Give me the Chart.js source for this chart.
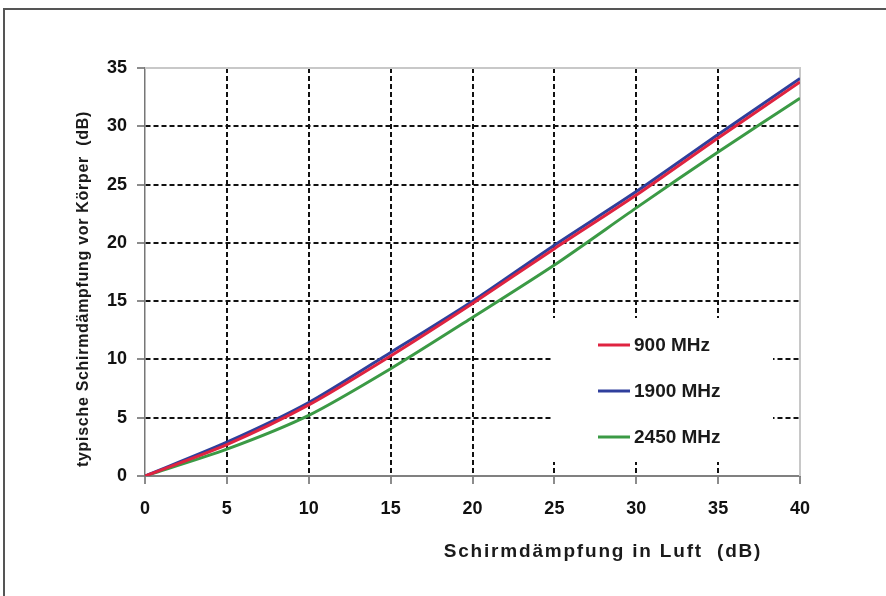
<!DOCTYPE html>
<html>
<head>
<meta charset="utf-8">
<script src="https://cdn.jsdelivr.net/npm/chart.js@4/dist/chart.umd.min.js"></script>
<style>
  body { margin: 0; background: #fff; }
  #wrap { position: relative; width: 886px; height: 596px; overflow: hidden; }
  #frame { position: absolute; left: 3px; top: 8px; width: 1000px; height: 1000px;
           border-top: 2px solid #555; border-left: 2px solid #555; }
  #box { position: absolute; left: 0; top: 0; width: 886px; height: 596px; }
</style>
</head>
<body>
<div id="wrap">
  <div id="frame"></div>
  <div id="box"><canvas id="chart"></canvas></div>
</div>
<script>
// Schirmdämpfung in Luft (dB)
const xValues = [0, 5, 10, 15, 20, 25, 30, 35, 40];
// typische Schirmdämpfung vor Körper (dB)
const mhz900  = [0, 2.7, 6.1, 10.3, 14.8, 19.5, 24.1, 29.0, 33.8];
const mhz1900 = [0, 2.9, 6.3, 10.6, 15.0, 19.8, 24.4, 29.3, 34.1];
const mhz2450 = [0, 2.3, 5.2, 9.2, 13.6, 18.1, 23.0, 27.8, 32.4];
const seriesLabels = ['900 MHz', '1900 MHz', '2450 MHz'];
const xTitle = 'Schirmdämpfung in Luft  (dB)';
const yTitle = 'typische Schirmdämpfung vor Körper  (dB)';

const toPoints = (ys) => ys.map((y, i) => ({ x: xValues[i], y: y }));

const FONT = "'Liberation Sans', Arial, sans-serif";

// grid lines at the outer edges are drawn by the frame plugin instead
const gridColor = (ctx) => {
    const s = ctx.scale;
    if (!ctx.tick) return '#111';
    return (ctx.tick.value === s.min || ctx.tick.value === s.max) ? 'rgba(0,0,0,0)' : '#111';
};

const extras = {
    id: 'extras',
    beforeDatasetsDraw(chart) {
        const { ctx, chartArea } = chart;
        ctx.save();
        // light frame top + right
        ctx.strokeStyle = '#c8c8c8';
        ctx.lineWidth = 2;
        ctx.beginPath();
        ctx.moveTo(chartArea.left, chartArea.top);
        ctx.lineTo(chartArea.right, chartArea.top);
        ctx.lineTo(chartArea.right, chartArea.bottom);
        ctx.stroke();
        // legend background over the grid
        ctx.fillStyle = '#fff';
        ctx.fillRect(chartArea.left + 408, chartArea.top + 250, 220, 144);
        ctx.restore();
    },
    afterDatasetsDraw(chart) {
        const { ctx, chartArea } = chart;
        ctx.save();
        chart.data.datasets.forEach((ds, i) => {
            const y = chartArea.top + 277 + i * 46;
            const x = chartArea.left + 453;
            ctx.strokeStyle = ds.borderColor;
            ctx.lineWidth = 3;
            ctx.beginPath();
            ctx.moveTo(x, y);
            ctx.lineTo(x + 32, y);
            ctx.stroke();
            ctx.fillStyle = '#1a1a1a';
            ctx.font = 'bold 19px ' + FONT;
            ctx.textBaseline = 'middle';
            ctx.textAlign = 'left';
            ctx.fillText(ds.label, x + 36, y + 1);
        });
        ctx.restore();
    },
    afterDraw(chart) {
        const { ctx, chartArea } = chart;
        ctx.save();
        ctx.fillStyle = '#1a1a1a';
        ctx.textAlign = 'center';
        ctx.textBaseline = 'middle';
        ctx.font = 'bold 19px ' + FONT;
        ctx.letterSpacing = '1.8px';
        ctx.fillText(xTitle, chartArea.left + 458, chartArea.bottom + 76);
        ctx.font = 'bold 16px ' + FONT;
        ctx.letterSpacing = '0.7px';
        ctx.translate(84, chartArea.top + 221);
        ctx.rotate(-Math.PI / 2);
        ctx.fillText(yTitle, 0, 0);
        ctx.restore();
    }
};

const chart = new Chart(document.getElementById('chart'), {
    type: 'line',
    data: {
        datasets: [
            { label: seriesLabels[0], data: toPoints(mhz900),  borderColor: '#df2340' },
            { label: seriesLabels[1], data: toPoints(mhz1900), borderColor: '#2f3f9c' },
            { label: seriesLabels[2], data: toPoints(mhz2450), borderColor: '#3b9a45' },
        ]
    },
    options: {
        responsive: true,
        maintainAspectRatio: false,
        animation: false,
        layout: { padding: { top: 68, right: 86, left: 0, bottom: 0 } },
        elements: {
            line: { borderWidth: 3, tension: 0.25 },
            point: { radius: 0 }
        },
        plugins: {
            legend: { display: false },
            tooltip: { enabled: false }
        },
        scales: {
            x: {
                type: 'linear',
                min: 0,
                max: 40,
                afterFit: (s) => { s.height = 120; },
                ticks: {
                    stepSize: 5,
                    padding: 14,
                    color: '#111',
                    font: { family: FONT, size: 18, weight: 'bold' }
                },
                grid: {
                    color: gridColor,
                    lineWidth: 2,
                    tickLength: 8,
                    tickColor: '#666',
                    tickWidth: 1.5
                },
                border: { color: '#808080', width: 2, dash: [5, 3] }
            },
            y: {
                min: 0,
                max: 35,
                afterFit: (s) => { s.width = 145; },
                ticks: {
                    stepSize: 5,
                    padding: 10,
                    color: '#111',
                    font: { family: FONT, size: 18, weight: 'bold' }
                },
                grid: {
                    color: gridColor,
                    lineWidth: 2,
                    tickLength: 8,
                    tickColor: '#666',
                    tickWidth: 1.5
                },
                border: { color: '#777', width: 1.5, dash: [5, 3] }
            }
        }
    },
    plugins: [extras]
});
</script>
</body>
</html>
